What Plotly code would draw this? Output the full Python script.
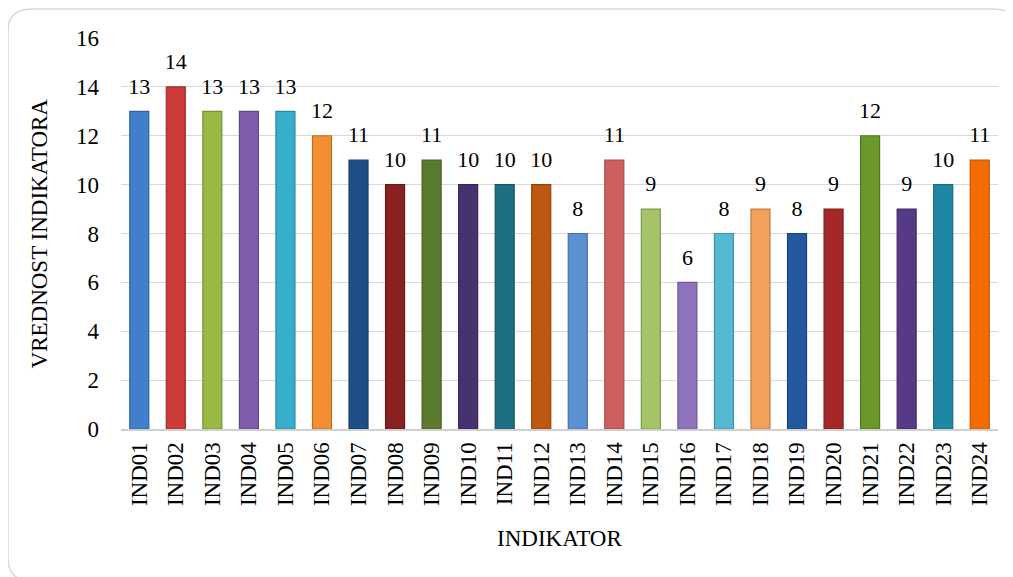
import plotly.graph_objects as go

categories = ["IND01", "IND02", "IND03", "IND04", "IND05", "IND06", "IND07", "IND08",
              "IND09", "IND10", "IND11", "IND12", "IND13", "IND14", "IND15", "IND16",
              "IND17", "IND18", "IND19", "IND20", "IND21", "IND22", "IND23", "IND24"]
values = [13, 14, 13, 13, 13, 12, 11, 10, 11, 10, 10, 10, 8, 11, 9, 6, 8, 9, 8, 9, 12, 9, 10, 11]
colors = ["#3F7FCB", "#CE3B3B", "#98BA45", "#7E5DAE", "#36AECB", "#F38E32",
          "#1F4E86", "#8A2121", "#5B7A2B", "#47326F", "#1E6F84", "#BE5710",
          "#5B90D2", "#D05E5E", "#A5C468", "#8F74BD", "#55B9D2", "#F2A05A",
          "#23589F", "#A42828", "#6A992A", "#573A86", "#1F87A6", "#F46C00"]
x_title = "INDIKATOR"
y_title = "VREDNOST INDIKATORA"


def shade(hex_color, f):
    h = hex_color.lstrip("#")
    r, g, b = (int(h[i:i + 2], 16) for i in (0, 2, 4))
    return "rgb({},{},{})".format(int(r * f), int(g * f), int(b * f))


edge_colors = [shade(c, 0.78) for c in colors]

font_family = "Liberation Serif"
axis_font = dict(family=font_family, size=23, color="#000000")
label_font = dict(family=font_family, size=22, color="#000000")

fig = go.Figure()
fig.add_trace(go.Bar(
    x=categories, y=values,
    marker=dict(color=colors, line=dict(width=1.2, color=edge_colors)),
    hoverinfo="x+y",
))
fig.add_trace(go.Scatter(
    x=categories, y=values, mode="markers+text",
    marker=dict(size=18, opacity=0),
    text=[str(v) for v in values], textposition="top center",
    textfont=label_font,
    cliponaxis=False, hoverinfo="skip",
))

fig.update_layout(
    width=1013, height=577,
    margin=dict(l=113, r=23, t=30, b=156, autoexpand=False),
    paper_bgcolor="white", plot_bgcolor="white",
    bargap=0.48,
    showlegend=False,
    font=axis_font,
    xaxis=dict(
        range=[-0.5, len(categories) - 0.5],
        tickangle=-90, tickfont=axis_font, automargin=False,
        showline=True, linecolor="#D0D0D0", linewidth=2,
        showgrid=False, ticks="", ticklabelstandoff=2,
    ),
    yaxis=dict(
        range=[0, 16], dtick=2, automargin=False,
        tickfont=axis_font,
        showgrid=True, gridcolor="#D9D9D9", gridwidth=1,
        zeroline=False, showline=False, ticks="", ticklabelstandoff=21,
    ),
    annotations=[
        dict(text=x_title, font=axis_font, xref="paper", yref="paper", x=0.5, y=-0.279,
             xanchor="center", yanchor="middle", showarrow=False),
        dict(text=y_title, font=axis_font, xref="paper", yref="paper", x=-0.0924, y=0.5,
             xanchor="center", yanchor="middle", textangle=-90, showarrow=False),
    ],
    shapes=[dict(
        type="path", xref="paper", yref="paper", layer="below",
        path=("M -0.1288,1.020 Q -0.1288,1.074 -0.100,1.074 L 0.995,1.074 "
              "Q 1.022,1.074 1.022,1.020 L 1.022,-0.330 Q 1.022,-0.390 0.995,-0.390 "
              "L -0.100,-0.390 Q -0.1288,-0.390 -0.1288,-0.330 Z"),
        line=dict(color="#D9D9D9", width=1.5), fillcolor="rgba(0,0,0,0)",
    )],
)

fig.write_html("out.html")
